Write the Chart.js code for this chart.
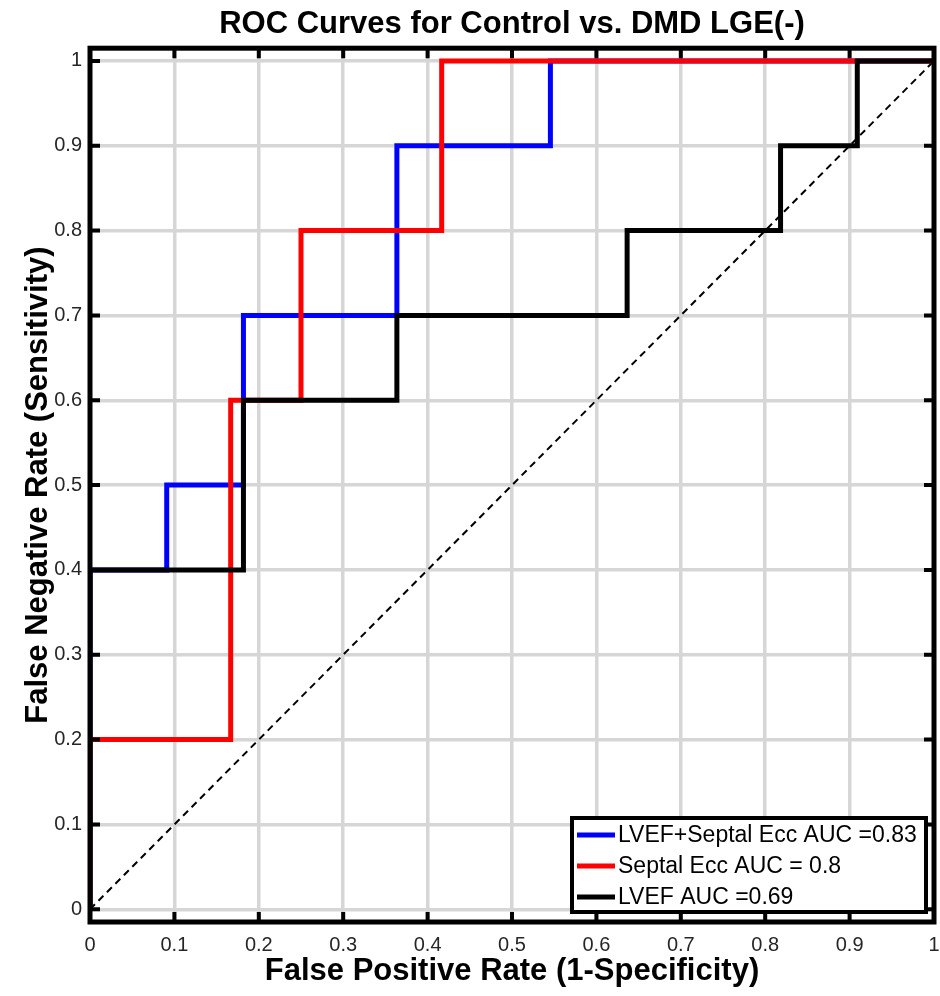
<!DOCTYPE html>
<html>
<head>
<meta charset="utf-8">
<script src="https://cdn.jsdelivr.net/npm/chart.js@4/dist/chart.umd.min.js"></script>
<style>
  html, body { margin: 0; padding: 0; background: #ffffff; }
  #wrap { width: 940px; height: 996px; }
</style>
</head>
<body>
<div id="wrap"><canvas id="c" width="940" height="996"></canvas></div>
<script>
// ---- data ----
const tickValues = [0, 0.1, 0.2, 0.3, 0.4, 0.5, 0.6, 0.7, 0.8, 0.9, 1];
const tickLabels = ['0', '0.1', '0.2', '0.3', '0.4', '0.5', '0.6', '0.7', '0.8', '0.9', '1'];

const comboLabel = 'LVEF+Septal Ecc AUC =0.83';
const comboFPR = [0, 0, 0.0909, 0.0909, 0.1818, 0.1818, 0.3636, 0.3636, 0.5455, 0.5455, 1];
const comboTPR = [0, 0.4, 0.4, 0.5, 0.5, 0.7, 0.7, 0.9, 0.9, 1, 1];

const septalLabel = 'Septal Ecc AUC = 0.8';
const septalFPR = [0, 0, 0.1667, 0.1667, 0.25, 0.25, 0.4167, 0.4167, 1];
const septalTPR = [0, 0.2, 0.2, 0.6, 0.6, 0.8, 0.8, 1, 1];

const lvefLabel = 'LVEF AUC =0.69';
const lvefFPR = [0, 0, 0.1818, 0.1818, 0.3636, 0.3636, 0.6364, 0.6364, 0.8182, 0.8182, 0.9091, 0.9091, 1];
const lvefTPR = [0, 0.4, 0.4, 0.6, 0.6, 0.7, 0.7, 0.8, 0.8, 0.9, 0.9, 1, 1];

const chanceFPR = [0, 1];
const chanceTPR = [0, 1];

const titleText = 'ROC Curves for Control vs. DMD LGE(-)';
const xTitle = 'False Positive Rate (1-Specificity)';
const yTitle = 'False Negative Rate (Sensitivity)';

// ---- helpers ----
const pts = (xs, ys) => xs.map((x, i) => ({ x: x, y: ys[i] }));
const FONT = '"Liberation Sans", Arial, Helvetica, sans-serif';

const frameAndLegend = {
  id: 'frameAndLegend',
  afterDatasetsDraw(chart) {
    const ctx = chart.ctx;
    const a = chart.chartArea;
    const xs = chart.scales.x, ys = chart.scales.y;
    ctx.save();
    // inward ticks on all four sides
    ctx.strokeStyle = '#000';
    ctx.lineWidth = 4;
    ctx.lineCap = 'butt';
    const tl = 10;
    tickValues.forEach(v => {
      const px = xs.getPixelForValue(v);
      const py = ys.getPixelForValue(v);
      ctx.beginPath();
      ctx.moveTo(px, a.bottom); ctx.lineTo(px, a.bottom - tl);
      ctx.moveTo(px, a.top); ctx.lineTo(px, a.top + tl);
      ctx.moveTo(a.left, py); ctx.lineTo(a.left + tl, py);
      ctx.moveTo(a.right, py); ctx.lineTo(a.right - tl, py);
      ctx.stroke();
    });
    // frame
    ctx.lineWidth = 5;
    ctx.strokeRect(a.left, a.top, a.right - a.left, a.bottom - a.top);

    // legend
    const items = chart.data.datasets.filter(d => d.inLegend);
    const bw = 354, bh = 94;
    const bx = a.right - 8 - bw, by = a.bottom - 10 - bh;
    ctx.fillStyle = '#fff';
    ctx.fillRect(bx, by, bw, bh);
    ctx.lineWidth = 4;
    ctx.strokeStyle = '#000';
    ctx.strokeRect(bx, by, bw, bh);
    ctx.font = '23px ' + FONT;
    ctx.textBaseline = 'middle';
    ctx.textAlign = 'left';
    items.forEach((d, i) => {
      const cy = by + 17 + i * 31;
      ctx.strokeStyle = d.borderColor;
      ctx.lineWidth = 5;
      ctx.beginPath();
      ctx.moveTo(bx + 5, cy); ctx.lineTo(bx + 43, cy);
      ctx.stroke();
      ctx.fillStyle = '#000';
      ctx.fillText(d.label, bx + 46, cy + 1);
    });
    ctx.restore();
  }
};

const common = { pointRadius: 0, pointHoverRadius: 0, fill: false, tension: 0, borderJoinStyle: 'miter' };

new Chart(document.getElementById('c'), {
  type: 'scatter',
  data: {
    datasets: [
      Object.assign({ label: comboLabel, data: pts(comboFPR, comboTPR), borderColor: '#0000ff', borderWidth: 5, showLine: true, order: 3, inLegend: true }, common),
      Object.assign({ label: septalLabel, data: pts(septalFPR, septalTPR), borderColor: '#ff0000', borderWidth: 5, showLine: true, order: 2, inLegend: true }, common),
      Object.assign({ label: lvefLabel, data: pts(lvefFPR, lvefTPR), borderColor: '#000000', borderWidth: 5, showLine: true, order: 1, inLegend: true }, common),
      Object.assign({ label: 'chance', data: pts(chanceFPR, chanceTPR), borderColor: '#000000', borderWidth: 2, borderDash: [7, 5], showLine: true, order: 4, inLegend: false }, common)
    ]
  },
  options: {
    responsive: false,
    animation: false,
    devicePixelRatio: 1,
    layout: { padding: { left: 0, right: 6, top: 0, bottom: 0 } },
    plugins: {
      legend: { display: false },
      tooltip: { enabled: false },
      title: {
        display: true,
        text: titleText,
        fullSize: false,
        color: '#000',
        font: { family: FONT, size: 31, weight: 'bold', lineHeight: 1.2 },
        padding: { top: 6, bottom: 5 }
      }
    },
    scales: {
      x: {
        type: 'linear',
        min: 0, max: 1,
        afterBuildTicks: s => { s.ticks = tickValues.map(v => ({ value: v })); },
        afterFit: s => { s.height = 74; s.paddingLeft = 0; s.paddingRight = 0; },
        grid: { color: '#d6d6d6', lineWidth: 3.5, drawTicks: false },
        border: { display: false },
        ticks: {
          padding: 11,
          color: '#262626',
          font: { family: FONT, size: 20 },
          maxRotation: 0,
          autoSkip: false,
          callback: (v, i) => tickLabels[i]
        },
        title: {
          display: true,
          text: xTitle,
          color: '#000',
          font: { family: FONT, size: 31, weight: 'bold', lineHeight: 1.2 },
          padding: { top: 6, bottom: 6 }
        }
      },
      y: {
        type: 'linear',
        min: -0.015, max: 1.015,
        afterBuildTicks: s => { s.ticks = tickValues.map(v => ({ value: v })); },
        afterFit: s => { s.width = 90; s.paddingTop = 0; s.paddingBottom = 0; },
        grid: { color: '#d6d6d6', lineWidth: 3.5, drawTicks: false },
        border: { display: false },
        ticks: {
          padding: 8,
          color: '#262626',
          font: { family: FONT, size: 20 },
          autoSkip: false,
          callback: (v, i) => tickLabels[i]
        },
        title: {
          display: true,
          text: yTitle,
          color: '#000',
          font: { family: FONT, size: 31, weight: 'bold', lineHeight: 1.2 },
          padding: { top: 20, bottom: 20 }
        }
      }
    }
  },
  plugins: [frameAndLegend]
});
</script>
</body>
</html>
